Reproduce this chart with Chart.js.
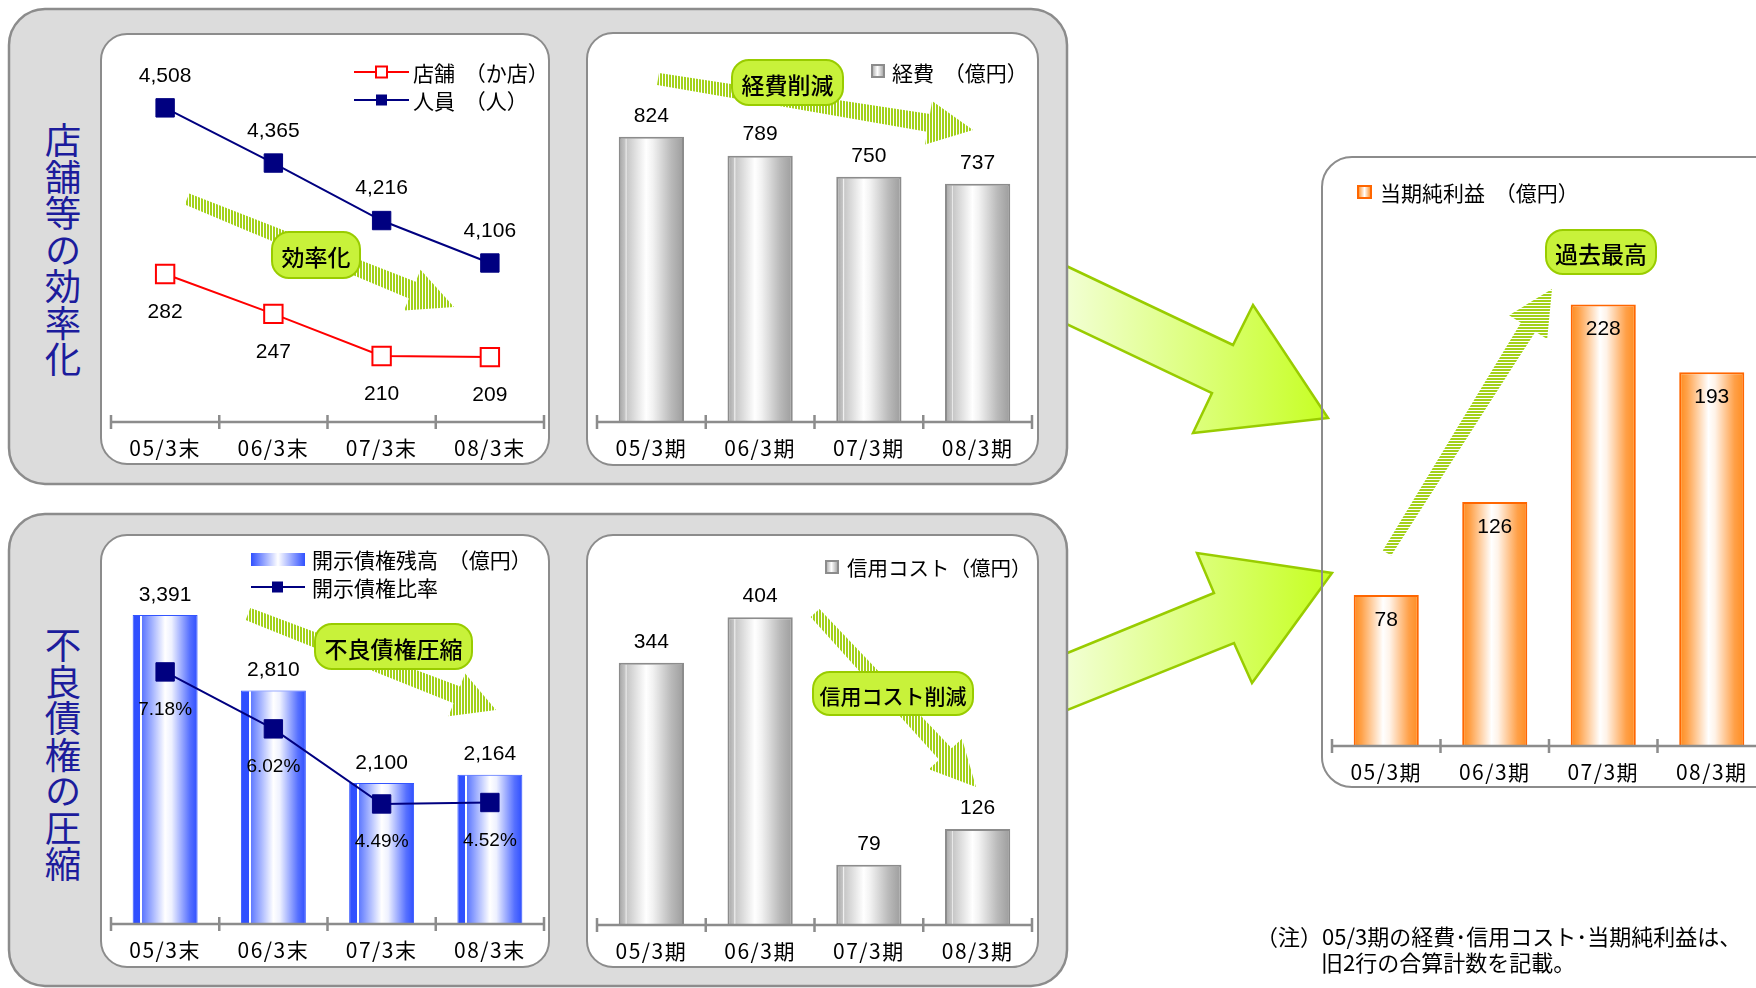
<!DOCTYPE html>
<html lang="ja">
<head>
<meta charset="utf-8">
<title>店舗等の効率化・不良債権の圧縮・当期純利益</title>
<script src="https://cdn.jsdelivr.net/npm/chart.js@4.4.1/dist/chart.umd.min.js"></script>
<style>
  html, body { margin: 0; padding: 0; background: #fff; }
  body { width: 1756px; height: 988px; overflow: hidden; position: relative;
         font-family: "Noto Sans CJK JP", sans-serif; }
  svg, canvas, .vtitle { position: absolute; left: 0; top: 0; }
  .vtitle { writing-mode: vertical-rl; font-size: 36.5px; line-height: 1; color: #1c1c9c; }
  .legend { word-spacing: 5px; }
</style>
</head>
<body>

<!-- panels and the two large connector arrows -->
<svg id="bg" width="1756" height="988">
  <defs>
    <linearGradient id="bigArrowFill" x1="1060" y1="0" x2="1320" y2="0" gradientUnits="userSpaceOnUse">
      <stop offset="0" stop-color="#f3ffd8"/>
      <stop offset="1" stop-color="#c8ff28"/>
    </linearGradient>
  </defs>
  <polygon points="1060,263 1233,345 1253,305 1328,418 1193,433 1212,393 1060,321"
           fill="url(#bigArrowFill)" stroke="#99cc00" stroke-width="2.5"/>
  <polygon points="1060,656 1214,593 1197,553 1332,573 1252,683 1234,643 1060,713"
           fill="url(#bigArrowFill)" stroke="#99cc00" stroke-width="2.5"/>
  <rect x="9" y="9" width="1058" height="475" rx="36" fill="#dcdcdc" stroke="#8c8c8c" stroke-width="2.5"/>
  <rect x="9" y="514" width="1058" height="472" rx="36" fill="#dcdcdc" stroke="#8c8c8c" stroke-width="2.5"/>
  <rect x="101" y="34" width="448" height="430" rx="26" fill="#fff" stroke="#8c8c8c" stroke-width="2"/>
  <rect x="587" y="33" width="451" height="432" rx="26" fill="#fff" stroke="#8c8c8c" stroke-width="2"/>
  <rect x="101" y="535" width="448" height="432" rx="26" fill="#fff" stroke="#8c8c8c" stroke-width="2"/>
  <rect x="587" y="535" width="451" height="432" rx="26" fill="#fff" stroke="#8c8c8c" stroke-width="2"/>
  <rect x="1322" y="157" width="520" height="630" rx="30" fill="none" stroke="#8c8c8c" stroke-width="2"/>
</svg>

<div class="vtitle" style="left:44px; top:122px;">店舗等の効率化</div>
<div class="vtitle" style="left:44px; top:627px;">不良債権の圧縮</div>

<div id="charts"></div>

<!-- callouts, legends and footnote -->
<svg id="fg" width="1756" height="988" font-family="Noto Sans CJK JP, sans-serif">
  <defs>
    <pattern id="hatchV" width="3" height="12" patternUnits="userSpaceOnUse">
      <rect x="0" y="0" width="2" height="12" fill="#a3d11a"/>
    </pattern>
    <pattern id="hatchH" width="12" height="3" patternUnits="userSpaceOnUse">
      <rect x="0" y="0" width="12" height="2" fill="#a3d11a"/>
    </pattern>
    <linearGradient id="swGray" x1="0" y1="0" x2="1" y2="0">
      <stop offset="0" stop-color="#a8a8a8"/><stop offset="0.45" stop-color="#ffffff"/><stop offset="1" stop-color="#a0a0a0"/>
    </linearGradient>
    <linearGradient id="swBlue" x1="0" y1="0" x2="1" y2="0">
      <stop offset="0" stop-color="#3050ff"/><stop offset="0.5" stop-color="#ffffff"/><stop offset="1" stop-color="#3050ff"/>
    </linearGradient>
    <linearGradient id="swOrange" x1="0" y1="0" x2="1" y2="0">
      <stop offset="0" stop-color="#ff8a1a"/><stop offset="0.5" stop-color="#ffffff"/><stop offset="1" stop-color="#ff8a1a"/>
    </linearGradient>
  </defs>
  <g id="hatched"></g>
  <g id="bubbles"></g>

  <!-- legend: stores / staff -->
  <line x1="354" y1="72" x2="409" y2="72" stroke="#ff0000" stroke-width="2"/>
  <rect x="376" y="66.5" width="11" height="11" fill="#fff" stroke="#ff0000" stroke-width="2"/>
  <line x1="354" y1="100" x2="409" y2="100" stroke="#000080" stroke-width="2"/>
  <rect x="376" y="94.5" width="11" height="11" fill="#000080"/>
  <text class="legend" x="413" y="72" font-size="21" dominant-baseline="central">店舗 （か店）</text>
  <text class="legend" x="413" y="100" font-size="21" dominant-baseline="central">人員 （人）</text>

  <!-- legend: expenses -->
  <rect x="872" y="65" width="12" height="12" fill="url(#swGray)" stroke="#8c8c8c" stroke-width="2"/>
  <text class="legend" x="892" y="72" font-size="21" dominant-baseline="central">経費 （億円）</text>

  <!-- legend: disclosed claims -->
  <rect x="251" y="553" width="54" height="13" fill="url(#swBlue)"/>
  <text class="legend" x="312" y="559" font-size="21" dominant-baseline="central">開示債権残高 （億円）</text>
  <line x1="251" y1="587" x2="305" y2="587" stroke="#000080" stroke-width="2"/>
  <rect x="272" y="581.5" width="11" height="11" fill="#000080"/>
  <text x="312" y="587" font-size="21" dominant-baseline="central">開示債権比率</text>

  <!-- legend: credit cost -->
  <rect x="826" y="561" width="12" height="12" fill="url(#swGray)" stroke="#8c8c8c" stroke-width="2"/>
  <text x="847" y="567" font-size="20.5" dominant-baseline="central">信用コスト（億円）</text>

  <!-- legend: net income -->
  <rect x="1358" y="186" width="13" height="12" fill="url(#swOrange)" stroke="#ff6600" stroke-width="2"/>
  <text class="legend" x="1380" y="192" font-size="21" dominant-baseline="central">当期純利益 （億円）</text>

  <!-- footnote -->
  <text x="1256" y="935" font-size="22" dominant-baseline="central">（注）05/3期の経費･信用コスト･当期純利益は、</text>
  <text x="1321" y="961" font-size="22" dominant-baseline="central">旧2行の合算計数を記載。</text>
</svg>

<script>
// ---- data ----
const periodEnd = ['05/3末', '06/3末', '07/3末', '08/3末'];
const fiscalYear = ['05/3期', '06/3期', '07/3期', '08/3期'];

const storeCount = [282, 247, 210, 209];          // 店舗（か店）
const staffCount = [4508, 4365, 4216, 4106];      // 人員（人）
const expenses = [824, 789, 750, 737];            // 経費（億円）
const disclosedClaims = [3391, 2810, 2100, 2164]; // 開示債権残高（億円）
const disclosedRatio = [7.18, 6.02, 4.49, 4.52];  // 開示債権比率（%）
const creditCost = [344, 404, 79, 126];           // 信用コスト（億円）
const netIncome = [78, 126, 228, 193];            // 当期純利益（億円）

// ---- fonts / styles ----
const CJK = '"Noto Sans CJK JP", "Noto Sans CJK SC", sans-serif';
const NUM_FONT = '21px "Liberation Sans", Arial, sans-serif';
const PCT_FONT = '19px "Liberation Sans", Arial, sans-serif';

const GRAY_STOPS = [[0, '#a4a4a4'], [0.1, '#c6c6c6'], [0.11, '#f2f2f2'], [0.13, '#c8c8c8'],
                    [0.42, '#ffffff'], [0.52, '#f2f2f2'], [0.8, '#bababa'], [1, '#9c9c9c']];
const BLUE_STOPS = [[0, '#2f4fff'], [0.12, '#3050ff'], [0.12, '#ffffff'], [0.15, '#ffffff'],
                    [0.15, '#5d78ff'], [0.5, '#ffffff'], [0.6, '#eef1ff'], [0.88, '#5670ff'], [1, '#2f4fff']];
const ORANGE_STOPS = [[0, '#ff8a1a'], [0.12, '#ffa24a'], [0.45, '#ffffff'], [0.55, '#fff3e8'],
                      [0.85, '#ffa048'], [1, '#ff8c1f']];

// horizontal cylinder-like shading for each bar, positioned from the category scale
function barShade(stops) {
  return (ctx) => {
    const chart = ctx.chart;
    const xs = chart.scales && chart.scales.x;
    if (ctx.type !== 'data' || !xs || !chart.chartArea) return stops[0][1];
    const n = chart.data.labels.length;
    const cat = (xs.right - xs.left) / n;
    const ds = ctx.dataset;
    const w = cat * (ds.categoryPercentage ?? 1) * (ds.barPercentage ?? 0.6);
    const cx = xs.getPixelForValue(ctx.dataIndex);
    if (!isFinite(cx)) return stops[0][1];
    const g = chart.ctx.createLinearGradient(cx - w / 2, 0, cx + w / 2, 0);
    stops.forEach(([o, c]) => g.addColorStop(o, c));
    return g;
  };
}

// slightly looser spacing for the category labels
const tickSpacing = {
  id: 'tickSpacing',
  beforeDraw(chart) { chart.ctx.letterSpacing = '1.5px'; },
  beforeDatasetsDraw(chart) { chart.ctx.letterSpacing = '0px'; }
};

// category axis baseline with tick marks crossing it at every category boundary
const axisBaseline = {
  id: 'axisBaseline',
  afterDatasetsDraw(chart) {
    const xs = chart.scales.x;
    const c = chart.ctx;
    const n = chart.data.labels.length;
    const step = (xs.right - xs.left) / n;
    const y = xs.top;
    c.save();
    c.strokeStyle = '#8c8c8c';
    c.lineWidth = 2.5;
    c.beginPath();
    c.moveTo(xs.left, y);
    c.lineTo(xs.right, y);
    for (let i = 0; i <= n; i++) {
      const x = xs.left + i * step;
      c.moveTo(x, y - 7);
      c.lineTo(x, y + 7);
    }
    c.stroke();
    c.restore();
  }
};

// value labels next to bars and points
const valueLabels = {
  id: 'valueLabels',
  afterDatasetsDraw(chart) {
    const c = chart.ctx;
    chart.data.datasets.forEach((ds, di) => {
      if (!ds.labelPos) return;
      const meta = chart.getDatasetMeta(di);
      meta.data.forEach((el, i) => {
        const v = ds.data[i];
        const text = ds.labelFormat ? ds.labelFormat(v) : v.toLocaleString('en-US');
        const y = ds.labelPos === 'above' ? el.y - ds.labelGap : el.y + ds.labelGap;
        c.save();
        c.letterSpacing = '0px';
        c.font = ds.labelFont || NUM_FONT;
        c.fillStyle = '#000';
        c.textAlign = 'center';
        c.textBaseline = 'middle';
        c.fillText(text, el.x, y);
        c.restore();
      });
    });
  }
};

function makeChart(box, area, labels, datasets, yScales) {
  const canvas = document.createElement('canvas');
  canvas.width = box.width;
  canvas.height = box.height;
  canvas.style.left = box.left + 'px';
  canvas.style.top = box.top + 'px';
  document.getElementById('charts').appendChild(canvas);
  const xHeight = box.top + box.height - area.bottom;
  const scales = {
    x: {
      type: 'category',
      offset: true,
      grid: { display: false, drawTicks: false },
      border: { display: false },
      ticks: { padding: 13, color: '#000', font: { family: CJK, size: 21 }, maxRotation: 0, autoSkip: false },
      afterFit(s) { s.height = xHeight; }
    }
  };
  Object.entries(yScales).forEach(([id, r]) => {
    scales[id] = { display: false, min: r.min, max: r.max };
  });
  return new Chart(canvas, {
    data: { labels, datasets },
    options: {
      responsive: false,
      animation: false,
      events: [],
      layout: {
        autoPadding: false,
        padding: {
          left: area.left - box.left,
          right: box.left + box.width - area.right,
          top: area.top - box.top,
          bottom: 0
        }
      },
      plugins: { legend: { display: false }, tooltip: { enabled: false } },
      scales
    },
    plugins: [tickSpacing, axisBaseline, valueLabels]
  });
}

const barBase = { type: 'bar', barPercentage: 0.6, categoryPercentage: 1, borderSkipped: 'bottom' };

// 店舗・人員
makeChart(
  { left: 101, top: 34, width: 448, height: 430 },
  { left: 111, right: 544, top: 60, bottom: 422 },
  periodEnd,
  [
    { type: 'line', label: '店舗（か店）', data: storeCount, yAxisID: 'yStores',
      borderColor: '#ff0000', borderWidth: 2, pointStyle: 'rect', pointRadius: 13,
      pointBackgroundColor: '#ffffff', pointBorderColor: '#ff0000', pointBorderWidth: 2,
      clip: false, labelPos: 'below', labelGap: 38 },
    { type: 'line', label: '人員（人）', data: staffCount, yAxisID: 'yStaff',
      borderColor: '#000080', borderWidth: 2, pointStyle: 'rect', pointRadius: 13,
      pointBackgroundColor: '#000080', pointBorderColor: '#000080', pointBorderWidth: 1,
      clip: false, labelPos: 'above', labelGap: 32 }
  ],
  { yStores: { min: 152, max: 470 }, yStaff: { min: 3694, max: 4632 } }
);

// 経費
makeChart(
  { left: 587, top: 33, width: 451, height: 432 },
  { left: 597, right: 1032, top: 60, bottom: 422 },
  fiscalYear,
  [
    { ...barBase, label: '経費（億円）', data: expenses, yAxisID: 'y',
      backgroundColor: barShade(GRAY_STOPS), borderColor: '#8c8c8c', borderWidth: 2,
      labelPos: 'above', labelGap: 21 }
  ],
  { y: { min: 296, max: 966 } }
);

// 開示債権残高・比率
makeChart(
  { left: 101, top: 535, width: 448, height: 432 },
  { left: 111, right: 544, top: 560, bottom: 924 },
  periodEnd,
  [
    { type: 'line', label: '開示債権比率', data: disclosedRatio, yAxisID: 'yRatio', order: 1,
      borderColor: '#000080', borderWidth: 2, pointStyle: 'rect', pointRadius: 13,
      pointBackgroundColor: '#000080', pointBorderColor: '#000080', pointBorderWidth: 1,
      clip: false, labelPos: 'below', labelGap: 38, labelFont: PCT_FONT,
      labelFormat: (v) => v.toFixed(2) + '%' },
    { ...barBase, label: '開示債権残高（億円）', data: disclosedClaims, yAxisID: 'yAmt', order: 2,
      backgroundColor: barShade(BLUE_STOPS), borderColor: '#3355ff', borderWidth: 1,
      labelPos: 'above', labelGap: 20 }
  ],
  { yAmt: { min: 1016, max: 3814 }, yRatio: { min: 2.045, max: 9.46 } }
);

// 信用コスト
makeChart(
  { left: 587, top: 535, width: 451, height: 432 },
  { left: 597, right: 1032, top: 560, bottom: 925 },
  fiscalYear,
  [
    { ...barBase, label: '信用コスト（億円）', data: creditCost, yAxisID: 'y',
      backgroundColor: barShade(GRAY_STOPS), borderColor: '#8c8c8c', borderWidth: 2,
      labelPos: 'above', labelGap: 21 }
  ],
  { y: { min: 0, max: 479 } }
);

// 当期純利益
makeChart(
  { left: 1322, top: 157, width: 478, height: 630 },
  { left: 1332, right: 1766, top: 200, bottom: 746 },
  fiscalYear,
  [
    { ...barBase, label: '当期純利益（億円）', data: netIncome, yAxisID: 'y',
      backgroundColor: barShade(ORANGE_STOPS), borderColor: '#ff6600', borderWidth: 2,
      labelPos: 'below', labelGap: 25 }
  ],
  { y: { min: 0, max: 282 } }
);

// ---- hatched trend arrows and their captions ----
const SVGNS = 'http://www.w3.org/2000/svg';
function arrowPoints(tail, tip, w0, w1, headLen, headW) {
  const dx = tip[0] - tail[0], dy = tip[1] - tail[1];
  const L = Math.hypot(dx, dy);
  const ux = dx / L, uy = dy / L, nx = -uy, ny = ux;
  const bx = tip[0] - ux * headLen, by = tip[1] - uy * headLen;
  return [
    [tail[0] + nx * w0 / 2, tail[1] + ny * w0 / 2],
    [bx + nx * w1 / 2, by + ny * w1 / 2],
    [bx + nx * headW / 2, by + ny * headW / 2],
    tip,
    [bx - nx * headW / 2, by - ny * headW / 2],
    [bx - nx * w1 / 2, by - ny * w1 / 2],
    [tail[0] - nx * w0 / 2, tail[1] - ny * w0 / 2]
  ].map(p => p[0].toFixed(1) + ',' + p[1].toFixed(1)).join(' ');
}
const trendArrows = [
  { tail: [187, 199], tip: [454, 307], w0: 12, w1: 18, head: 45, headW: 44, fill: 'url(#hatchV)' },
  { tail: [658, 79], tip: [973, 130], w0: 12, w1: 18, head: 45, headW: 44, fill: 'url(#hatchV)' },
  { tail: [248, 614], tip: [496, 710], w0: 13, w1: 18, head: 42, headW: 46, fill: 'url(#hatchV)' },
  { tail: [815, 613], tip: [976, 787], w0: 12, w1: 17, head: 45, headW: 45, fill: 'url(#hatchV)' },
  { tail: [1387, 553], tip: [1552, 289], w0: 10, w1: 17, head: 45, headW: 45, fill: 'url(#hatchH)' }
];
const hatchedGroup = document.getElementById('hatched');
trendArrows.forEach(a => {
  const p = document.createElementNS(SVGNS, 'polygon');
  p.setAttribute('points', arrowPoints(a.tail, a.tip, a.w0, a.w1, a.head, a.headW));
  p.setAttribute('fill', a.fill);
  hatchedGroup.appendChild(p);
});

const callouts = [
  { text: '効率化', x: 272, y: 232, w: 88, h: 46, size: 23 },
  { text: '経費削減', x: 732, y: 60, w: 111, h: 45, size: 23 },
  { text: '不良債権圧縮', x: 315, y: 624, w: 157, h: 45, size: 23 },
  { text: '信用コスト削減', x: 813, y: 672, w: 160, h: 43, size: 21 },
  { text: '過去最高', x: 1546, y: 230, w: 110, h: 44, size: 23 }
];
const bubbleGroup = document.getElementById('bubbles');
callouts.forEach(b => {
  const r = document.createElementNS(SVGNS, 'rect');
  r.setAttribute('x', b.x); r.setAttribute('y', b.y);
  r.setAttribute('width', b.w); r.setAttribute('height', b.h);
  r.setAttribute('rx', 17);
  r.setAttribute('fill', '#c8f23a');
  r.setAttribute('stroke', '#99cc00');
  r.setAttribute('stroke-width', 2);
  bubbleGroup.appendChild(r);
  const t = document.createElementNS(SVGNS, 'text');
  t.setAttribute('x', b.x + b.w / 2);
  t.setAttribute('y', b.y + b.h / 2 + 1);
  t.setAttribute('text-anchor', 'middle');
  t.setAttribute('dominant-baseline', 'central');
  t.setAttribute('font-size', b.size);
  t.setAttribute('font-weight', 500);
  t.textContent = b.text;
  bubbleGroup.appendChild(t);
});
</script>
</body>
</html>
